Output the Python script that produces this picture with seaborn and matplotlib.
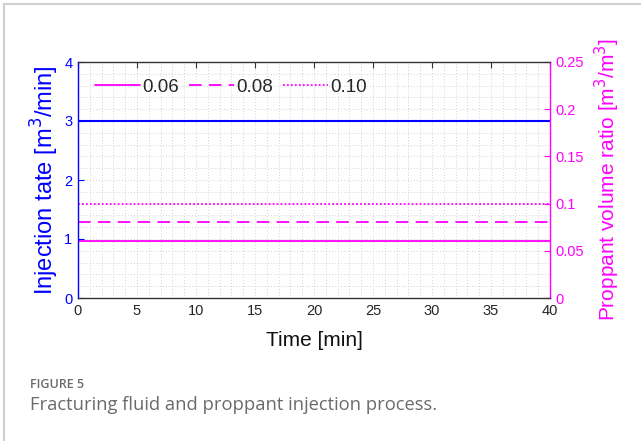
import matplotlib
matplotlib.use("Agg")
import matplotlib.pyplot as plt
from matplotlib.ticker import MultipleLocator, FuncFormatter
from matplotlib.lines import Line2D
import seaborn as sns
import pandas as pd

# Data
time_min = [0, 40]
injection_rate = [3, 3]
ratio_labels = ["0.06", "0.08", "0.10"]
ratio_values = [0.06, 0.08, 0.10]
ratio_styles = ["-", (0, (7, 4)), (0, (1, 1.2))]

sns.set_style("white")
plt.rcParams["font.family"] = ["Liberation Sans", "DejaVu Sans"]

BLUE = "#0000FF"
MAGENTA = "#FF00FF"

fig = plt.figure(figsize=(6.41, 4.41), dpi=100)
ax = fig.add_axes([78 / 641, 1 - 298 / 441, (550 - 78) / 641, (298 - 62) / 441])
ax2 = ax.twinx()

# injection rate on the left axis
df_rate = pd.DataFrame({"time": time_min, "rate": injection_rate})
sns.lineplot(data=df_rate, x="time", y="rate", ax=ax, color=BLUE, lw=1.5)

# proppant volume ratios on the right axis
handles = []
for lab, val, ls in zip(ratio_labels, ratio_values, ratio_styles):
    df = pd.DataFrame({"time": time_min, "ratio": [val] * len(time_min)})
    sns.lineplot(data=df, x="time", y="ratio", ax=ax2, color=MAGENTA, lw=1.3,
                 linestyle=ls)
    handles.append(Line2D([], [], color=MAGENTA, lw=1.3, linestyle=ls, label=lab))

ax.set_xlim(0, 40)
ax.set_ylim(0, 4)
ax2.set_ylim(0, 0.25)

ax.xaxis.set_major_locator(MultipleLocator(5))
ax.xaxis.set_minor_locator(MultipleLocator(1))
ax.yaxis.set_major_locator(MultipleLocator(1))
ax.yaxis.set_minor_locator(MultipleLocator(0.2))
ax2.yaxis.set_major_locator(MultipleLocator(0.05))
ax2.yaxis.set_major_formatter(FuncFormatter(lambda v, p: f"{v:g}"))

ax.grid(True, which="both", linestyle=(0, (1, 2.5)), color="#c4c4d0", lw=0.6)
ax2.grid(False)

ax.tick_params(axis="x", which="major", direction="in", top=True, length=4,
               labelsize=10.5, color="#333333", pad=4)
ax.tick_params(axis="y", which="major", direction="in", length=4, colors=BLUE,
               labelsize=10.5, pad=4)
ax.tick_params(which="minor", length=0)
ax2.tick_params(axis="y", which="major", direction="in", length=4, colors=MAGENTA,
                labelsize=10.5, pad=4)

for s in ["top", "bottom"]:
    ax2.spines[s].set_color("#333333")
ax2.spines["left"].set_color(BLUE)
ax2.spines["right"].set_color(MAGENTA)
for sp in ax2.spines.values():
    sp.set_linewidth(1.0)
for sp in ax.spines.values():
    sp.set_visible(False)

ax.set_xlabel("Time [min]", fontsize=15, color="#111111", labelpad=10)
ax.set_ylabel("Injection tate [m$^3$/min]", fontsize=17, color=BLUE, labelpad=2)
ax2.set_ylabel("Proppant volume ratio [m$^3$/m$^3$]", fontsize=15, color=MAGENTA,
               labelpad=6)

ax2.legend(handles=handles, loc="upper left", ncol=3, frameon=False,
           fontsize=13.5, handlelength=2.4, handletextpad=0.15,
           columnspacing=0.5, bbox_to_anchor=(0.0, 1.0))

# outer page border
fig.add_artist(Line2D([4 / 641, 1], [1 - 4 / 441, 1 - 4 / 441],
                      transform=fig.transFigure, color="#d0d0d0", lw=1.5))
fig.add_artist(Line2D([4 / 641, 4 / 641], [0, 1 - 4 / 441],
                      transform=fig.transFigure, color="#d0d0d0", lw=1.5))

# caption
fig.text(30 / 641, 1 - 385 / 441, "FIGURE 5", fontsize=9, color="#6b6b6b",
         family="Open Sans", weight="semibold", va="center")
fig.text(30 / 641, 1 - 405 / 441, "Fracturing fluid and proppant injection process.",
         fontsize=13.2, color="#6b6b6b", family="Open Sans", va="center")

fig.savefig("out.png", dpi=100)
